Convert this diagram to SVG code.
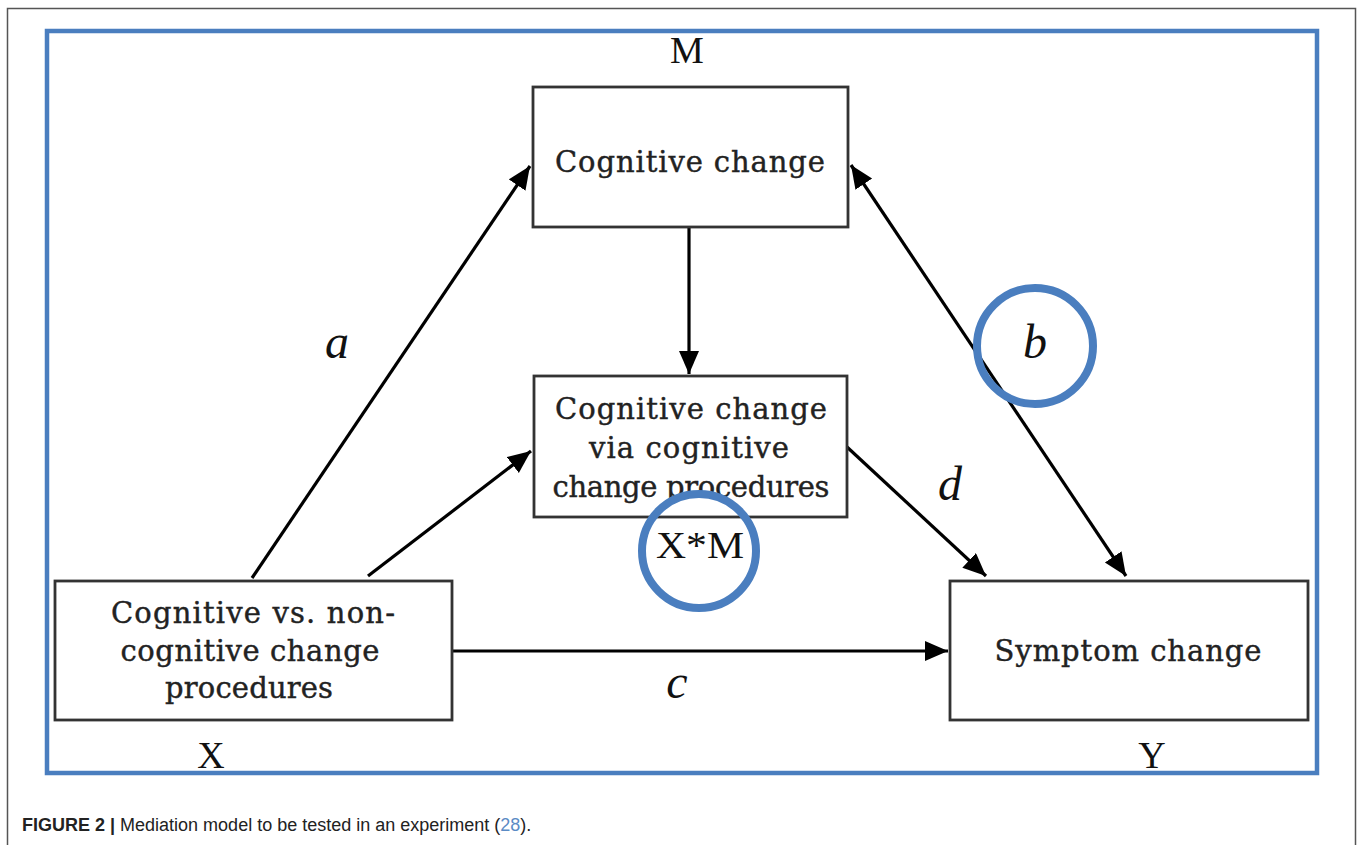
<svg xmlns="http://www.w3.org/2000/svg" width="1357" height="845" viewBox="0 0 1357 845">
<style>
.box{fill:#fff;stroke:#333;stroke-width:2.8}
.t{font-family:"DejaVu Serif","Liberation Serif",serif;font-size:29px;fill:#222;stroke:#222;stroke-width:0.4;text-anchor:middle}
.lab{font-family:"Liberation Serif","Times New Roman",serif;font-size:38px;fill:#111;text-anchor:middle}
.it{font-family:"Liberation Serif","Times New Roman",serif;font-style:italic;font-size:48px;fill:#111;text-anchor:middle}
.con{stroke:#000;stroke-width:3.2;fill:none}
.hl{fill:none;stroke:#4a7ebf;stroke-width:8}
.cap{font-family:"Liberation Sans",Arial,sans-serif;font-size:18px;fill:#222}
</style>
<defs>
<marker id="ah" markerUnits="userSpaceOnUse" markerWidth="26" markerHeight="22" refX="23" refY="10" orient="auto-start-reverse" viewBox="0 0 26 22">
<path d="M0,0 L23,10 L0,20 Z" fill="#000"/>
</marker>
</defs>
<rect width="1357" height="845" fill="#fff"/>
<path d="M7.5,845 V8.5 H1355.5 V845" fill="none" stroke="#555" stroke-width="1.5"/>
<rect x="47" y="31" width="1270" height="742" fill="none" stroke="#4a7ebf" stroke-width="4.5"/>

<g id="connectors">
<line class="con" x1="252" y1="578" x2="530" y2="166" marker-end="url(#ah)"/>
<line class="con" x1="368" y1="576" x2="531" y2="451" marker-end="url(#ah)"/>
<line class="con" x1="689" y1="227" x2="689" y2="374" marker-end="url(#ah)"/>
<line class="con" x1="847" y1="447" x2="986" y2="576" marker-end="url(#ah)"/>
<line class="con" x1="851" y1="165" x2="1126" y2="576" marker-start="url(#ah)" marker-end="url(#ah)"/>
<line class="con" x1="451" y1="651" x2="948" y2="651" marker-end="url(#ah)"/>
</g>

<g id="node-m">
<rect class="box" x="533" y="87" width="315" height="140"/>
<text class="t" x="690" y="172" textLength="270" lengthAdjust="spacing">Cognitive change</text>
<text class="lab" x="687" y="63">M</text>
</g>

<g id="node-xm">
<rect class="box" x="534" y="376" width="313" height="141"/>
<text class="t" x="691" y="419" textLength="272" lengthAdjust="spacing">Cognitive change</text>
<text class="t" x="689" y="458" textLength="200" lengthAdjust="spacing">via cognitive</text>
<text class="t" x="691" y="497" textLength="277" lengthAdjust="spacing">change procedures</text>
<text class="lab" x="700" y="558" textLength="88" lengthAdjust="spacingAndGlyphs">X*M</text>
</g>

<g id="node-x">
<rect class="box" x="55" y="581" width="397" height="139"/>
<text class="t" x="253" y="623" textLength="284" lengthAdjust="spacing">Cognitive vs. non-</text>
<text class="t" x="250" y="661" textLength="259" lengthAdjust="spacing">cognitive change</text>
<text class="t" x="249" y="698" textLength="168" lengthAdjust="spacing">procedures</text>
<text class="lab" x="211" y="768">X</text>
</g>

<g id="node-y">
<rect class="box" x="950" y="581" width="358" height="139"/>
<text class="t" x="1128" y="661" textLength="267" lengthAdjust="spacing">Symptom change</text>
<text class="lab" x="1152" y="768">Y</text>
</g>

<g id="labels">
<text class="it" x="337" y="358">a</text>
<text class="it" x="1035" y="358">b</text>
<text class="it" x="950" y="500">d</text>
<text class="it" x="677" y="698">c</text>
</g>

<g id="highlights">
<circle class="hl" cx="1035" cy="346" r="58"/>
<circle class="hl" cx="699" cy="551" r="57"/>
</g>

<text class="cap" x="22" y="831"><tspan font-weight="bold">FIGURE 2 |</tspan> Mediation model to be tested in an experiment (<tspan fill="#5b8bc5">28</tspan>).</text>
</svg>
